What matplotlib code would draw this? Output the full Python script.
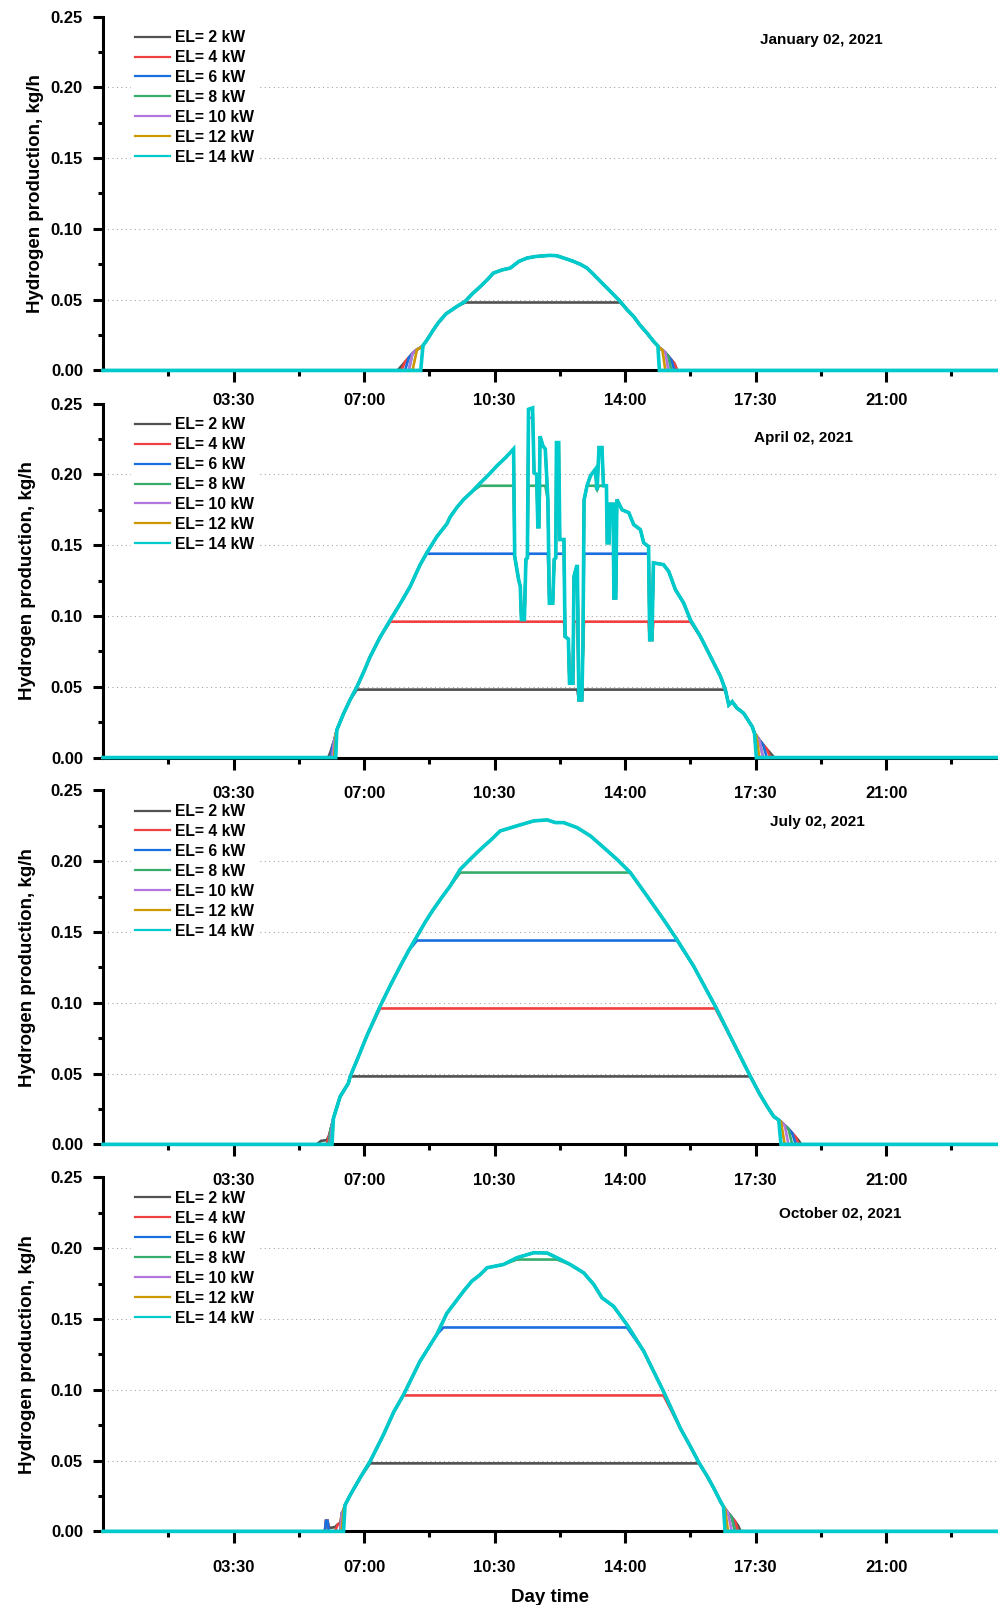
import numpy as np
import matplotlib
matplotlib.use('Agg')
import matplotlib.pyplot as plt

plt.rcParams['font.family'] = ['Liberation Sans', 'DejaVu Sans']
plt.rcParams['font.weight'] = 'bold'
plt.rcParams['axes.labelweight'] = 'bold'

# hydrogen the PV field could give (kg/h) vs hour of day
jan_t = [0, 7.90, 8.00, 8.10, 8.20, 8.30, 8.42, 8.52, 8.58, 8.70, 8.86, 9.00, 9.20, 9.49, 9.71,
         9.90, 10.12, 10.30, 10.47, 10.70, 10.92, 11.15, 11.37, 11.60, 11.99, 12.17, 12.40,
         12.62, 12.80, 12.98, 13.15, 13.34, 13.60, 13.87, 14.05, 14.23, 14.40, 14.59, 14.75,
         14.88, 14.92, 15.00, 15.08, 15.16, 15.24, 15.32, 15.40, 15.45, 24]
jan_v = [0, 0, 0.003, 0.006, 0.009, 0.012, 0.0148, 0.0162, 0.0175, 0.022, 0.0287, 0.034, 0.040,
         0.0452, 0.0487, 0.054, 0.0593, 0.064, 0.0688, 0.071, 0.0723, 0.077, 0.0794, 0.0805,
         0.0813, 0.081, 0.079, 0.077, 0.075, 0.0723, 0.068, 0.0629, 0.056, 0.0487, 0.043,
         0.0381, 0.032, 0.0263, 0.021, 0.0172, 0.0160, 0.0145, 0.0125, 0.0100, 0.0075, 0.005,
         0.002, 0, 0]

apr_t = [0, 6.04, 6.10, 6.15, 6.20, 6.24, 6.27, 6.45, 6.63, 6.81, 7.00, 7.16, 7.43, 7.70, 8.00,
         8.24, 8.50, 8.68, 8.95, 9.22, 9.31, 9.50, 9.67, 9.90, 10.12, 10.35, 10.56, 10.80, 11.01,
         11.04, 11.15, 11.19, 11.22, 11.30, 11.34, 11.38, 11.41, 11.52, 11.56, 11.63, 11.66,
         11.69, 11.72, 11.80, 11.86, 11.93, 11.97, 12.06, 12.10, 12.14, 12.16, 12.22, 12.25,
         12.36, 12.39, 12.48, 12.51, 12.60, 12.63, 12.70, 12.72, 12.76, 12.84, 12.87, 12.90,
         12.98, 13.07, 13.20, 13.25, 13.30, 13.38, 13.42, 13.50, 13.52, 13.57, 13.60, 13.68,
         13.70, 13.75, 13.78, 13.92, 14.10, 14.23, 14.41, 14.50, 14.63, 14.66, 14.72, 14.76,
         15.03, 15.17, 15.35, 15.57, 15.75, 16.02, 16.29, 16.56, 16.69, 16.78, 16.87, 17.00,
         17.18, 17.41, 17.47, 17.52, 17.60, 17.70, 17.80, 17.90, 18.00, 24]
apr_v = [0, 0, 0.004, 0.008, 0.012, 0.016, 0.0195, 0.031, 0.041, 0.050, 0.061, 0.071, 0.085,
         0.097, 0.110, 0.121, 0.136, 0.1445, 0.156, 0.1650, 0.170, 0.177, 0.1823, 0.188, 0.194,
         0.200, 0.206, 0.212, 0.218, 0.142, 0.125, 0.121, 0.0975, 0.0975, 0.140, 0.141, 0.246,
         0.247, 0.201, 0.200, 0.163, 0.163, 0.227, 0.220, 0.218, 0.182, 0.109, 0.109, 0.140,
         0.141, 0.2225, 0.2225, 0.154, 0.154, 0.0855, 0.0837, 0.0525, 0.0525, 0.128, 0.135,
         0.135, 0.0407, 0.0407, 0.0785, 0.182, 0.192, 0.199, 0.2036, 0.189, 0.219, 0.219, 0.192,
         0.192, 0.1517, 0.1517, 0.179, 0.179, 0.1127, 0.1127, 0.1823, 0.175, 0.173, 0.1646,
         0.161, 0.1517, 0.149, 0.0832, 0.0832, 0.1375, 0.1363, 0.1315, 0.1186, 0.1092, 0.0973,
         0.0855, 0.0714, 0.0572, 0.0478, 0.0372, 0.0395, 0.035, 0.0313, 0.0218, 0.0172, 0.0155,
         0.0125, 0.0092, 0.006, 0.003, 0, 0]

jul_t = [0, 5.73, 5.85, 6.00, 6.06, 6.10, 6.14, 6.18, 6.36, 6.58, 6.63, 6.85, 7.07, 7.43, 7.70,
         7.97, 8.20, 8.42, 8.64, 8.86, 9.10, 9.31, 9.58, 9.85, 10.12, 10.40, 10.65, 11.10, 11.55,
         11.91, 12.13, 12.35, 12.71, 13.07, 13.43, 13.78, 14.14, 14.59, 15.03, 15.39, 15.84,
         16.42, 16.91, 17.36, 17.60, 17.81, 17.99, 18.12, 18.18, 18.28, 18.38, 18.48, 18.58,
         18.66, 18.72, 24]
jul_v = [0, 0, 0.0025, 0.003, 0.006, 0.010, 0.014, 0.0185, 0.0338, 0.0432, 0.048, 0.062, 0.0763,
         0.0975, 0.112, 0.1258, 0.137, 0.147, 0.157, 0.166, 0.175, 0.1825, 0.1943, 0.2015,
         0.2084, 0.215, 0.2214, 0.225, 0.2285, 0.2292, 0.2273, 0.2273, 0.2238, 0.2179, 0.2096,
         0.2014, 0.192, 0.1754, 0.1589, 0.1447, 0.1258, 0.0975, 0.0716, 0.048, 0.036, 0.0267,
         0.0196, 0.0172, 0.0160, 0.0135, 0.011, 0.008, 0.005, 0.0025, 0, 0]

oct_t = [0, 5.95, 5.98, 6.02, 6.06, 6.14, 6.22, 6.30, 6.37, 6.40, 6.45, 6.49, 6.63, 6.90, 7.16,
         7.52, 7.80, 8.06, 8.50, 8.95, 9.13, 9.22, 9.45, 9.67, 9.89, 10.10, 10.30, 10.74, 11.10,
         11.55, 11.91, 12.17, 12.53, 12.89, 13.16, 13.38, 13.69, 14.05, 14.50, 15.03, 15.48,
         15.75, 15.98, 16.20, 16.38, 16.58, 16.64, 16.68, 16.76, 16.86, 16.95, 17.03, 17.10, 24]
oct_v = [0, 0, 0.0075, 0.0075, 0.0026, 0.0026, 0.003, 0.005, 0.006, 0.0125, 0.0150, 0.0185,
         0.0257, 0.038, 0.0493, 0.0682, 0.0845, 0.0965, 0.1201, 0.139, 0.149, 0.154, 0.162,
         0.1697, 0.1767, 0.181, 0.1862, 0.1885, 0.1933, 0.1968, 0.1966, 0.1933, 0.1885, 0.1826,
         0.1744, 0.165, 0.159, 0.146, 0.1272, 0.0988, 0.0729, 0.060, 0.0485, 0.039, 0.0304,
         0.020, 0.0174, 0.0160, 0.013, 0.010, 0.007, 0.004, 0, 0]

days = ['January 02, 2021', 'April 02, 2021', 'July 02, 2021', 'October 02, 2021']

# electrolyser sizes: max output and minimum output (kg/h) below which it stays off
el_labels = ['EL= 2 kW', 'EL= 4 kW', 'EL= 6 kW', 'EL= 8 kW', 'EL= 10 kW', 'EL= 12 kW', 'EL= 14 kW']
el_cap = [0.048, 0.096, 0.144, 0.192, 0.240, 0.288, 0.336]
el_min = [0.0024, 0.0048, 0.0072, 0.0096, 0.0120, 0.0144, 0.0168]
el_colors = ['#515151', '#F14040', '#1A6FDF', '#37AD6B', '#B177DE', '#CC9900', '#00CBCC']

hour_ticks = [3.5, 7, 10.5, 14, 17.5, 21]
hour_labels = ['03:30', '07:00', '10:30', '14:00', '17:30', '21:00']
hour_minor = [1.75, 5.25, 8.75, 12.25, 15.75, 19.25, 22.75]

curves = [(jan_t, jan_v), (apr_t, apr_v), (jul_t, jul_v), (oct_t, oct_v)]

# layout (figure fractions / axes fractions)
bottoms = [0.7692, 0.5280, 0.2870, 0.0459]
title_pos = [(0.803, 0.935), (0.7826, 0.903), (0.798, 0.911), (0.824, 0.897)]
ylab_x = [-0.0759, -0.0843, -0.0843, -0.0843]
xpad = [7.6, 12.0, 12.0, 12.0]

fig = plt.figure(figsize=(9.98, 16.05), dpi=100)

for i, (tt, vv) in enumerate(curves):
    ax = fig.add_axes([0.1032, bottoms[i], 0.8968, 0.2205])
    ax.patch.set_alpha(0)
    for hy in [0.05, 0.10, 0.15, 0.20]:
        ax.axhline(hy, color='#a0a0a0', lw=0.75, ls=(0, (1, 3.3)), zorder=1)

    t = np.array(tt)
    v = np.array(vv)
    for k in range(len(el_cap)):
        y = np.where(v >= el_min[k], np.minimum(v, el_cap[k]), 0.0)
        lw = 2.6 if k == len(el_cap) - 1 else 1.9
        ax.plot(t, y, color=el_colors[k], lw=lw, label=el_labels[k],
                clip_on=False, zorder=3 + 0.01 * k, solid_joinstyle='miter')

    ax.set_xlim(0, 24)
    ax.set_ylim(0, 0.25)
    ax.spines['top'].set_visible(False)
    ax.spines['right'].set_visible(False)
    ax.spines['left'].set_linewidth(2.2)
    ax.spines['bottom'].set_linewidth(2.2)

    ax.set_xticks(hour_ticks)
    ax.set_xticklabels(hour_labels)
    ax.set_xticks(hour_minor, minor=True)
    ax.set_yticks(np.arange(0, 0.2501, 0.05))
    ax.set_yticklabels(['%.2f' % y for y in np.arange(0, 0.2501, 0.05)])
    ax.set_yticks(np.arange(0.025, 0.25, 0.05), minor=True)
    ax.tick_params(axis='x', which='major', direction='out', length=8.4, width=2.2,
                   pad=xpad[i], labelsize=12)
    ax.tick_params(axis='x', which='minor', direction='out', length=4, width=2.2)
    ax.tick_params(axis='y', which='major', direction='out', length=7.2, width=2.2,
                   pad=7.2, labelsize=12)
    ax.tick_params(axis='y', which='minor', direction='out', length=3.6, width=2.2)

    ax.set_ylabel('Hydrogen production, kg/h', fontsize=13.5, fontweight='bold', va='center')
    ax.yaxis.set_label_coords(ylab_x[i], 0.5)

    leg = ax.legend(loc='upper left', bbox_to_anchor=(0.031, 0.975), frameon=True,
                    fancybox=False, edgecolor='none', facecolor='white', framealpha=1,
                    fontsize=11.3, handlelength=2.2, handletextpad=0.35, labelspacing=0.315,
                    borderpad=0.3, borderaxespad=0)
    for h in leg.get_lines():
        h.set_linewidth(1.6)

    ax.text(title_pos[i][0], title_pos[i][1], days[i], transform=ax.transAxes,
            ha='center', va='center', fontsize=11, fontweight='bold')

    if i == len(curves) - 1:
        ax.set_xlabel('Day time', fontsize=13.5, fontweight='bold', va='center')
        ax.xaxis.set_label_coords(0.5, -0.186)

fig.savefig('out.png', dpi=100)
